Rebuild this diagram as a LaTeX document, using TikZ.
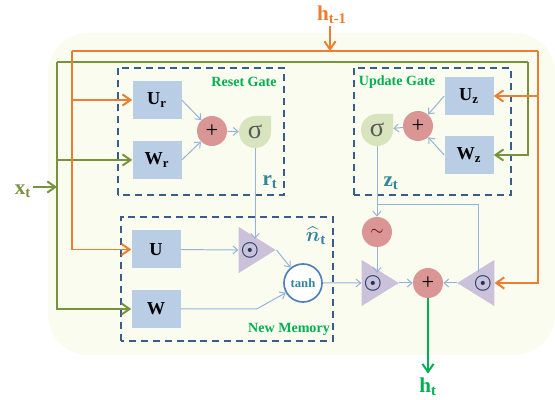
\documentclass[tikz,border=0pt]{standalone}
\usepackage{amsmath}
\usepackage{fontspec}
\setmainfont{Liberation Serif}
\usetikzlibrary{arrows.meta,shapes.geometric,backgrounds}

\definecolor{colBg}{RGB}{250,252,240}
\definecolor{colH}{RGB}{237,125,49}
\definecolor{colX}{RGB}{119,147,60}
\definecolor{colHout}{RGB}{0,176,80}
\definecolor{colBox}{RGB}{185,205,229}
\definecolor{colDash}{RGB}{56,93,138}
\definecolor{colFlow}{RGB}{149,179,215}
\definecolor{colPlus}{RGB}{217,150,148}
\definecolor{colSig}{RGB}{215,228,189}
\definecolor{colTri}{RGB}{204,193,218}
\definecolor{colDot}{RGB}{23,55,94}
\definecolor{colTanh}{RGB}{79,129,189}
\definecolor{colLab}{RGB}{49,133,156}

\begin{document}
\begin{tikzpicture}[x=0.25cm, y=0.25cm,
    box/.style={fill=colBox, minimum width=1.225cm, minimum height=0.95cm, inner sep=0pt,
        font=\fontsize{13}{15}\selectfont\bfseries},
    gate/.style={draw=colDash, line width=1.1pt, dash pattern=on 5pt off 3.5pt},
    gname/.style={text=colHout, font=\fontsize{10}{12}\selectfont\bfseries, inner sep=1pt},
    lab/.style={font=\fontsize{15}{17}\selectfont\bfseries, inner sep=1pt},
    plus/.style={circle, fill=colPlus, minimum size=0.75cm, inner sep=0pt, font=\fontsize{16}{16}\selectfont},
    sig/.style={circle, minimum size=0.8cm, inner sep=0pt, text=black!65, font=\fontsize{19}{19}\selectfont},
    tri/.style={isosceles triangle, isosceles triangle stretches, fill=colTri, inner sep=0pt,
        minimum width=1.15cm, minimum height=0.925cm, text=colDot, font=\fontsize{14}{14}\selectfont},
    tanhn/.style={circle, draw=colTanh, line width=1.2pt, fill=white, minimum size=0.95cm, inner sep=0pt,
        text=colLab, font=\fontsize{9}{10}\selectfont\bfseries},
    flow/.style={draw=colFlow, line width=0.7pt, -{Straight Barb[length=1.2mm,width=2mm]}},
    fline/.style={draw=colFlow, line width=0.7pt},
    oline/.style={draw=colH, line width=1.4pt},
    oarr/.style={oline, -{Straight Barb[length=2mm,width=2.8mm]}},
    gline/.style={draw=colX, line width=1.4pt},
    garr/.style={gline, -{Straight Barb[length=2mm,width=2.8mm]}}]

    \useasboundingbox (0,0) rectangle (55.5,40);

    % Nền bo góc
    \begin{scope}[on background layer]
        \fill[colBg, rounded corners=1cm] (4.8,4.5) rectangle (55.5,36.7);
    \end{scope}

    % Các khung nét đứt
    \draw[gate] (11.8,20.5) rectangle (28.4,33.2);
    \draw[gate] (35.4,20.5) rectangle (51.1,33.2);
    \draw[gate] (12.1,5.9) rectangle (33.3,18.3);
    \node[gname] (resetlab) at (24.4,31.8) {Reset Gate};
    \node[gname] (updatelab) at (39.7,31.8) {Update Gate};
    \node[gname] (memlab) at (28.9,7.1) {New Memory};

    % Các ma trận trọng số
    \node[box] (Ur) at (15.7,30.0) {U\textsubscript{r}};
    \node[box] (Wr) at (15.7,24.0) {W\textsubscript{r}};
    \node[box] (Uz) at (46.9,30.4) {U\textsubscript{z}};
    \node[box] (Wz) at (46.9,24.5) {W\textsubscript{z}};
    \node[box] (U) at (15.6,15.05) {U};
    \node[box] (W) at (15.6,9.1) {W};

    % Hàm sigma (hình giọt nước)
    \fill[colSig] (25.5,26.8) ++(1.6,0) -- ++(0,1.6) -- ++(-1.6,0) arc[start angle=90, end angle=360, radius=1.6];
    \fill[colSig] (37.7,27.0) ++(1.6,0) -- ++(0,1.6) -- ++(-1.6,0) arc[start angle=90, end angle=360, radius=1.6];
    \node[sig] (sr) at (25.5,26.8) {σ};
    \node[sig] (sz) at (37.7,27.0) {σ};

    % Phép cộng, nhân, tanh
    \node[plus] (pr) at (21.2,26.9) {+};
    \node[plus] (pz) at (41.8,27.4) {+};
    \node[plus, text=black!60!red, font=\large] (tl) at (37.7,16.8) {$\sim$};
    \node[tri] (m1) at (25.0,15.0) {$\boldsymbol{\odot}$};
    \node[tri] (mA) at (37.3,11.7) {$\boldsymbol{\odot}$};
    \node[tri, shape border rotate=180] (mB) at (48.3,11.7) {$\boldsymbol{\odot}$};
    \node[plus] (po) at (42.8,11.7) {+};
    \node[tanhn] (th) at (30.3,11.7) {tanh};

    % Nhãn
    \node[lab, text=colH] (hprev) at (33.2,38.5) {h\textsubscript{t-1}};
    \node[lab, text=colX] (xt) at (2.3,20.9) {x\textsubscript{t}};
    \node[lab, text=colLab] (rt) at (27.0,21.8) {r\textsubscript{t}};
    \node[lab, text=colLab] (zt) at (39.1,21.7) {z\textsubscript{t}};
    \node[lab, text=colLab] (nt) at (31.6,16.4) {$\widehat{\boldsymbol{n}}_{\mathbf{t}}$};
    \node[lab, text=colHout] (ht) at (42.8,1.3) {h\textsubscript{t}};

    % Đường x_t (xanh lá)
    \coordinate (gL) at (5.7,33.8);
    \coordinate (gR) at (52.8,33.8);
    \coordinate (xin) at (5.7,21.3);
    \draw[garr] (xt.east |- xin) -- (xin);
    \draw[gline] (gL) -- (gR);
    \draw[garr] (gL) |- (W);
    \draw[garr] (gL |- Wr) -- (Wr);
    \draw[garr] (gR) |- (Wz);

    % Đường h_{t-1} (cam)
    \coordinate (hin) at (33.0,34.9);
    \coordinate (oL) at (7.2,34.9);
    \coordinate (oR) at (53.8,34.9);
    \draw[oarr] (hprev.south -| hin) -- (hin);
    \draw[oline] (oL) -- (oR);
    \draw[oarr] (oL) |- (U);
    \draw[oarr] (oL |- Ur) -- (Ur);
    \draw[oarr] (oR) |- (mB);
    \draw[oarr] (oR |- Uz) -- (Uz);

    % Luồng bên trong các cổng
    \draw[flow] (Ur.east) -- (pr);
    \draw[flow] (Wr.east) -- (pr);
    \draw[flow] (pr) -- (sr);
    \draw[flow] (Uz.west) -- (pz);
    \draw[flow] (Wz.west) -- (pz);
    \draw[flow] (pz) -- (sz);

    % Bộ nhớ mới
    \coordinate (rin) at (25.5,16.1);
    \draw[flow] (sr.south) -- (rin);
    \draw[flow] (U) -- (m1);
    \draw[flow] (m1.apex) -- (th);
    \draw[flow] (W.east) -- ++(7.6,0) -- (th);
    \draw[flow] (th) -- (mA);

    % Kết hợp đầu ra
    \coordinate (zj) at (37.7,19.5);
    \coordinate (zin) at (47.8,12.8);
    \coordinate (tin) at (37.7,12.7);
    \draw[flow] (sz.south) -- (tl);
    \draw[fline] (zj) -| (zin);
    \draw[flow] (tl) -- (tin);
    \draw[flow] (mA.apex) -- (po);
    \draw[flow] (mB.apex) -- (po);
    \draw[draw=colHout, line width=1.4pt, -{Straight Barb[length=2mm,width=2.8mm]}, shorten >=2pt] (po) -- (ht);

\end{tikzpicture}
\end{document}
